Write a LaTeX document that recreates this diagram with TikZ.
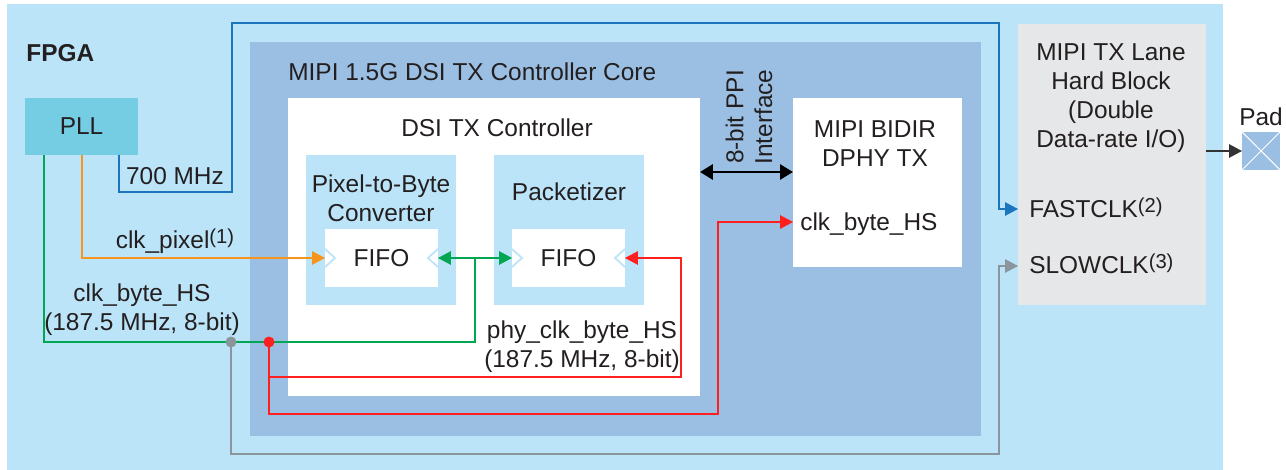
\documentclass[tikz,border=0pt]{standalone}
\usepackage{fontspec}
\setmainfont{Liberation Sans}
\usepackage{xcolor}
\usepackage{tikz}
\usetikzlibrary{calc,arrows.meta,positioning}

\definecolor{fpgablue}{HTML}{BBE4F8}
\definecolor{coreblue}{HTML}{9BBFE3}
\definecolor{pllcyan}{HTML}{74CDE3}
\definecolor{lanegrey}{HTML}{E6E7E8}
\definecolor{inktext}{HTML}{231F20}
\definecolor{fastblue}{HTML}{1B75BC}
\definecolor{pixorange}{HTML}{F7941D}
\definecolor{bytegreen}{HTML}{00A651}
\definecolor{hsred}{HTML}{FF1F1F}
\definecolor{slowgrey}{HTML}{8A969C}

% footnote marks such as (1)
\newcommand{\fnmark}[1]{{\fontsize{11.5}{12}\selectfont\raisebox{2.5pt}{(#1)}}}

\begin{document}
\begin{tikzpicture}[
    x=0.02cm,
    y=-0.02cm,
    font=\fontsize{13.9}{16.4}\selectfont,
    text=inktext,
    every node/.style={inner sep=0pt},
    block/.style={
        anchor=north west,
        inner sep=0pt,
        outer sep=0pt
    },
    wire/.style={line width=0.75pt},
    clkarrow/.style={-{Triangle[length=0.26cm,width=0.27cm]}},
    chevron/.style={draw=fpgablue,line width=1pt},
    tap/.style={
        circle,
        inner sep=0pt,
        minimum size=0.22cm
    }
]

\useasboundingbox (0,0) rectangle (1286,470);

% ---------------------------------------------------------
% Blocks
% ---------------------------------------------------------

\node[block,fill=fpgablue,minimum width=24.32cm,minimum height=9.32cm]
    (fpga) at (7,4) {};

\node[block,fill=pllcyan,minimum width=2.26cm,minimum height=1.14cm]
    (pll) at (25,98) {PLL};

\node[block,fill=coreblue,minimum width=14.62cm,minimum height=7.88cm]
    (core) at (250,42) {};

\node[block,fill=white,minimum width=8.24cm,minimum height=5.96cm]
    (dsi) at (288,98) {};

\node[block,fill=fpgablue,minimum width=3cm,minimum height=3cm]
    (p2b) at (306,155) {};

\node[block,fill=fpgablue,minimum width=3cm,minimum height=3cm]
    (pkt) at (494,155) {};

\node[block,fill=white,minimum width=2.26cm,minimum height=1.16cm]
    (fifoA) at (325,229) {FIFO};

\node[block,fill=white,minimum width=2.26cm,minimum height=1.16cm]
    (fifoB) at (512,229) {FIFO};

\node[block,fill=white,minimum width=3.38cm,minimum height=3.38cm]
    (dphy) at (793,98) {};

\node[block,fill=lanegrey,minimum width=3.76cm,minimum height=5.62cm]
    (lane) at (1018,24) {};

\node[block,fill=coreblue,minimum width=0.76cm,minimum height=0.76cm]
    (pad) at (1242,132) {};

\draw[white,line width=0.6pt]
    (pad.north west) -- (pad.south east)
    (pad.north east) -- (pad.south west);

% ---------------------------------------------------------
% Block labels
% ---------------------------------------------------------

\node[anchor=base west,font=\fontsize{13.9}{16.4}\selectfont\bfseries]
    (fpgalabel) at (26,61) {FPGA};

\node[anchor=base west] (corelabel) at (288,80)
    {MIPI 1.5G DSI TX Controller Core};

\node[anchor=base] (dsilabel) at (497,136)
    {DSI TX Controller};

\node[anchor=base,align=center] (p2blabel) at (381,221)
    {Pixel-to-Byte\\Converter};

\node[anchor=base] (pktlabel) at (569,200)
    {Packetizer};

\node[anchor=base,align=center] (dphylabel) at (875,166)
    {MIPI BIDIR\\DPHY TX};

\node[anchor=base west] (hslabel) at (800,230)
    {clk\_byte\_HS};

\node[anchor=base,align=center] (lanelabel) at (1111,147)
    {MIPI TX Lane\\Hard Block\\(Double\\Data-rate I/O)};

\node[anchor=base west] (fastlabel) at (1029,217)
    {FASTCLK\fnmark{2}};

\node[anchor=base west] (slowlabel) at (1029,273)
    {SLOWCLK\fnmark{3}};

\node[anchor=base] (padlabel) at (1261,125) {Pad};

% ---------------------------------------------------------
% PPI interface
% ---------------------------------------------------------

\draw[line width=1.7pt,{Triangle[length=0.26cm,width=0.3cm]}-{Triangle[length=0.26cm,width=0.3cm]}]
    ($(dsi.north east)+(0,74)$) -- ($(dphy.north west)+(0,74)$);

\node[rotate=90,align=center] (ppilabel) at (749,117)
    {8-bit PPI\\Interface};

% FIFO input marks
\draw[chevron] ($(fifoA.west)+(0,-9)$) -- ++(10,9) -- ++(-10,9);
\draw[chevron] ($(fifoA.east)+(0,-9)$) -- ++(-10,9) -- ++(10,9);
\draw[chevron] ($(fifoB.west)+(0,-9)$) -- ++(10,9) -- ++(-10,9);
\draw[chevron] ($(fifoB.east)+(0,-9)$) -- ++(-10,9) -- ++(10,9);

% ---------------------------------------------------------
% Clocks from the PLL
% ---------------------------------------------------------

\coordinate (tapgrey) at (231,342);
\coordinate (tapred) at (269,342);
\coordinate (redsplit) at (269,377);
\coordinate (gsplit) at ($(fifoA.east)!0.5!(fifoB.west)$);

% 700 MHz
\draw[wire,draw=fastblue,clkarrow]
    ($(pll.south east)+(-19,0)$) |- (232,192)
    |- (999,23) |- ($(lane.north west)+(0,185)$);

\node[anchor=base] (fastfreq) at (175,184) {700 MHz};

% clk_pixel
\draw[wire,draw=pixorange,clkarrow]
    ($(pll.south west)+(57,0)$) |- (fifoA.west);

\node[anchor=base] (pixlabel) at (175,248)
    {clk\_pixel\fnmark{1}};

% clk_byte_HS
\draw[wire,draw=bytegreen]
    ($(pll.south west)+(19,0)$) |- (tapgrey) -| (gsplit);

\draw[wire,draw=bytegreen,
    {Triangle[length=0.26cm,width=0.27cm]}-{Triangle[length=0.26cm,width=0.27cm]}]
    (fifoA.east) -- (fifoB.west);

\node[anchor=base,align=center] (bytelabel) at (142,330)
    {clk\_byte\_HS\\(187.5 MHz, 8-bit)};

% SLOWCLK
\draw[wire,draw=slowgrey,clkarrow]
    (tapgrey) |- (999,454) |- ($(lane.north west)+(0,242)$);

% phy_clk_byte_HS
\draw[wire,draw=hsred,clkarrow]
    (tapred) |- (718,414) |- ($(dphy.north west)+(0,124)$);

\draw[wire,draw=hsred,clkarrow]
    (redsplit) -| ($(fifoB.east)+(56,0)$) -- (fifoB.east);

\node[anchor=base,align=center] (phylabel) at (582,367)
    {phy\_clk\_byte\_HS\\(187.5 MHz, 8-bit)};

% tap points
\node[tap,fill=slowgrey] (greydot) at (tapgrey) {};
\node[tap,fill=hsred] (reddot) at (tapred) {};

% to the pad
\draw[wire,draw=black!80,clkarrow]
    (lane.east |- pad.west) -- (pad.west);

\end{tikzpicture}
\end{document}
